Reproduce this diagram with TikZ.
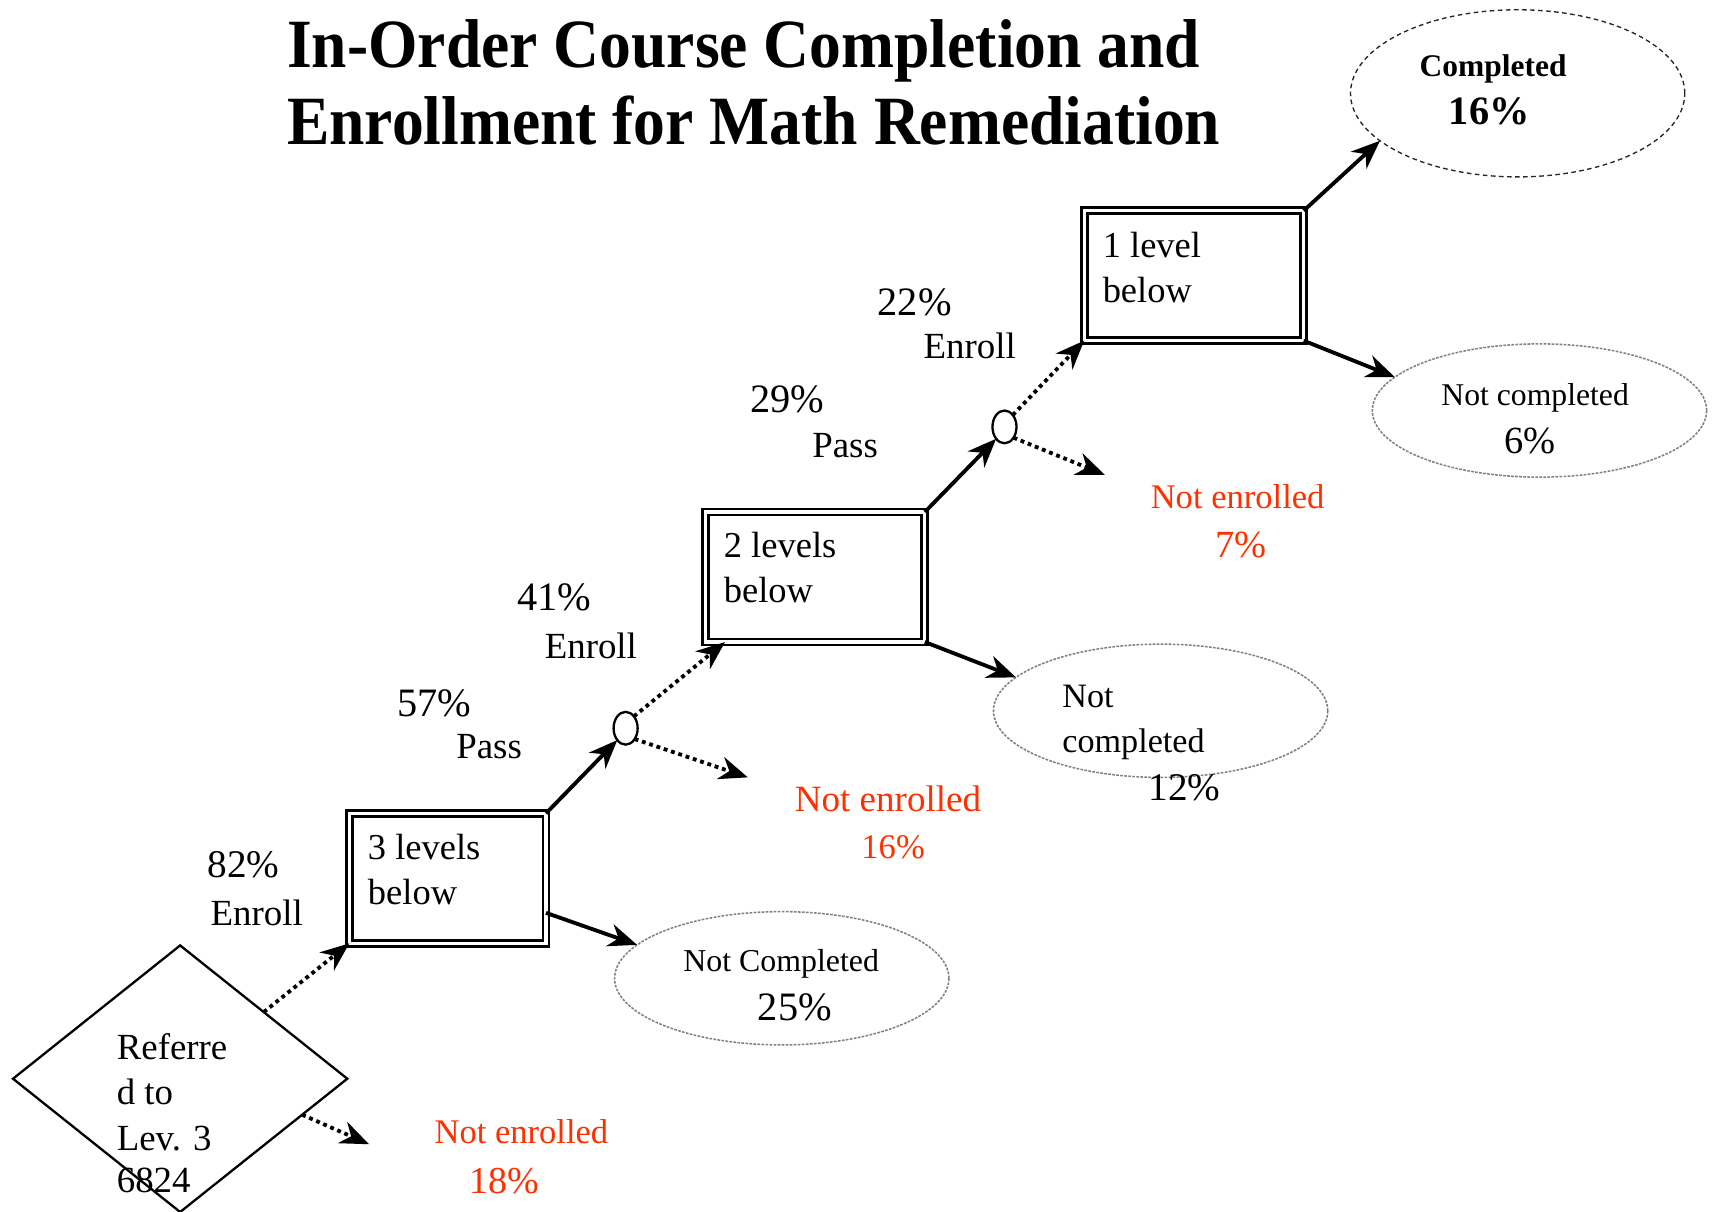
\documentclass[tikz,border=0pt]{standalone}
\usepackage{fontspec}
\setmainfont{Liberation Serif}
\newfontfamily\titlefont{Liberation Serif}[FakeStretch=0.92]
\usetikzlibrary{shapes.geometric,arrows.meta,calc}
\definecolor{redtxt}{RGB}{255,48,0}
\newcommand{\fsz}[1]{\fontsize{#1}{#1}\selectfont}
\tikzset{
  txt/.style={inner sep=0pt, outer sep=0pt, anchor=base west},
  ctxt/.style={inner sep=0pt, outer sep=0pt, anchor=base},
  levelbox/.style={draw, line width=0.75pt, double, double distance=0.8pt, inner sep=0pt, outer sep=0pt},
  smallell/.style={draw, ellipse, line width=0.6pt, minimum width=0.22cm, minimum height=0.30cm, inner sep=0pt, outer sep=0pt},
  ncell/.style={draw=gray, ellipse, line width=0.4pt, dash pattern=on 0.7pt off 0.35pt, minimum width=3.06cm, minimum height=1.22cm, inner sep=0pt, outer sep=0pt},
  compell/.style={draw=black!85, ellipse, line width=0.35pt, dash pattern=on 1.2pt off 0.9pt, minimum width=3.06cm, minimum height=1.53cm, inner sep=0pt, outer sep=0pt},
  solidarr/.style={line width=1pt, -{Stealth[length=7.5pt,width=6pt,inset=2.4pt]}},
  dotarr/.style={line width=1pt, dash pattern=on 1pt off 1pt, -{Stealth[length=7.5pt,width=6pt,inset=2.4pt]}},
}
\begin{document}
\begin{tikzpicture}[x=0.01cm,y=-0.01cm]
\useasboundingbox (0,0) rectangle (1568,1110);

% title
\node[txt] (t1) at (263,62) {\titlefont\bfseries\fsz{18}In-Order Course Completion and};
\node[txt] (t2) at (263,132) {\titlefont\bfseries\fsz{18}Enrollment for Math Remediation};

% diamond
\node[draw, diamond, line width=0.6pt, minimum width=3.06cm, minimum height=2.44cm, inner sep=0pt, outer sep=0pt] (D) at (165,988) {};
\node[txt] (d1) at (107,970) {\fsz{9.6}Referre};
\node[txt] (d2) at (107,1012) {\fsz{9.6}d to};
\node[txt] (d3) at (107,1054) {\fsz{9.6}Lev. 3};
\node[txt] (d4) at (107,1092) {\fsz{9.6}6824};

% level boxes
\node[levelbox, minimum width=1.80cm, minimum height=1.19cm] (b3) at (410,804.5) {};
\node[levelbox, minimum width=2.01cm, minimum height=1.19cm] (b2) at (746.5,528.5) {};
\node[levelbox, minimum width=2.01cm, minimum height=1.19cm] (b1) at (1093.5,252.5) {};
\node[txt] (b3a) at (337,787) {\fsz{9.5}3 levels};
\node[txt] (b3b) at (337,828) {\fsz{9.5}below};
\node[txt] (b2a) at (663,511) {\fsz{9.5}2 levels};
\node[txt] (b2b) at (663,552) {\fsz{9.5}below};
\node[txt] (b1a) at (1010,236) {\fsz{9.5}1 level};
\node[txt] (b1b) at (1010,277) {\fsz{9.5}below};

% small decision ellipses
\node[smallell] (c1) at (573,667) {};
\node[smallell] (c2) at (920,391) {};

% outcome ellipses
\node[ncell] (nc3) at (716,896) {};
\node[ncell] (nc2) at (1063,651) {};
\node[ncell] (nc1) at (1410,376) {};
\node[compell] (comp) at (1390,85.5) {};

\node[ctxt] (nc3a) at (715.5,890) {\fsz{8.3}Not Completed};
\node[ctxt] (nc3b) at (728,935) {\fsz{10.5}25\%};
\node[txt] (nc2a) at (973,648) {\fsz{8.9}Not};
\node[txt] (nc2b) at (973,689) {\fsz{8.9}completed};
\node[txt] (nc2c) at (1052,733) {\fsz{10.2}12\%};
\node[ctxt] (nc1a) at (1406,371) {\fsz{8.25}Not completed};
\node[ctxt] (nc1b) at (1401.5,415) {\fsz{10}6\%};
\node[ctxt] (compa) at (1367.5,70) {\bfseries\fsz{8.2}Completed};
\node[ctxt] (compb) at (1364,114) {\bfseries\fsz{10.5}16\%};

% percentage labels
\node[txt] (l1a) at (190,804) {\fsz{10.2}82\%};
\node[txt] (l1b) at (193,848) {\fsz{9.6}Enroll};
\node[txt] (l2a) at (364,656) {\fsz{10.5}57\%};
\node[txt] (l2b) at (418,695) {\fsz{9.6}Pass};
\node[txt] (l3a) at (474,559) {\fsz{10.5}41\%};
\node[txt] (l3b) at (499,603) {\fsz{9.6}Enroll};
\node[txt] (l4a) at (687,378) {\fsz{10.5}29\%};
\node[txt] (l4b) at (744,419) {\fsz{9.6}Pass};
\node[txt] (l5a) at (804,289) {\fsz{10.5}22\%};
\node[txt] (l5b) at (846,328) {\fsz{9.6}Enroll};

% not enrolled labels
\node[txt, text=redtxt] (ne1a) at (398,1047) {\fsz{9}Not enrolled};
\node[txt, text=redtxt] (ne1b) at (430,1093) {\fsz{9.9}18\%};
\node[txt, text=redtxt] (ne2a) at (728,743) {\fsz{9.65}Not enrolled};
\node[txt, text=redtxt] (ne2b) at (789,786) {\fsz{9}16\%};
\node[txt, text=redtxt] (ne3a) at (1054,466) {\fsz{9}Not enrolled};
\node[txt, text=redtxt] (ne3b) at (1113,511) {\fsz{10}7\%};

% free arrow ends
\coordinate (e1) at (338,1048);
\coordinate (e2) at (685,712);
\coordinate (e3) at (1012,435);

% connectors
\draw[dotarr] (D.north east) -- (b3.south west);
\draw[dotarr] ($(D.east)!0.27!(D.south)$) -- (e1);

\draw[solidarr] (b3.north east) -- (c1.235);
\draw[solidarr] ($(b3.north east)!0.765!(b3.south east)$) -- (nc3.167);
\draw[dotarr] (c1.55) -- ($(b2.south west)!0.09!(b2.south east)$);
\draw[dotarr] (c1.-50) -- (e2);

\draw[solidarr] (b2.north east) -- (c2.235);
\draw[solidarr] (b2.south east) -- (nc2.167);
\draw[dotarr] (c2.55) -- (b1.south west);
\draw[dotarr] (c2.-50) -- (e3);

\draw[solidarr] (b1.north east) -- (comp.199);
\draw[solidarr] (b1.south east) -- (nc1.167);
\end{tikzpicture}
\end{document}
